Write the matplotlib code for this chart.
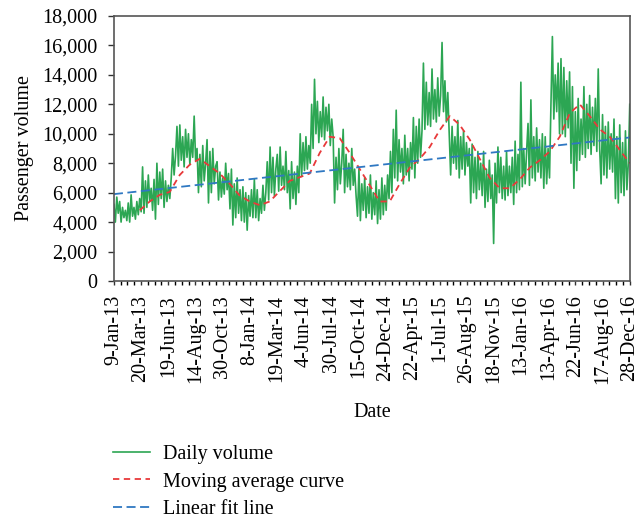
import numpy as np
import matplotlib
matplotlib.use('Agg')
import matplotlib.pyplot as plt
from matplotlib.ticker import FuncFormatter, FixedLocator

plt.rcParams['font.family'] = 'Liberation Serif'

# Volume diário (milhares de passageiros), lido em sequência ao longo do período
daily_k = [
    5.2, 4.0, 5.7, 4.6, 5.4, 4.0, 5.0, 4.3,
    4.8, 4.1, 5.3, 4.0, 5.85, 4.4, 5.0, 4.2,
    5.4, 4.5, 5.6, 4.7,
    7.75, 4.6, 6.8, 5.0, 7.2, 5.4, 6.3,
    4.8, 6.9, 4.2, 8.0, 5.2, 7.4, 5.6,
    7.6, 5.0, 6.8, 5.4, 6.5,
    5.6, 7.0, 9.0, 7.2, 8.5,
    10.5, 7.8, 10.6, 8.2, 9.8, 7.75, 10.3, 8.4,
    10.0, 7.9, 9.6, 8.4, 11.2, 8.2,
    9.0, 6.0, 8.6, 6.4, 9.2, 6.8, 8.0,
    9.6, 5.3, 8.8, 6.0, 9.0, 6.6, 7.8,
    8.1, 5.5, 7.4, 5.7, 7.0, 5.9, 8.0, 6.2, 7.3,
    4.9, 7.6, 3.8, 6.6, 4.3, 7.0, 4.6, 6.2, 4.1,
    6.4, 4.0, 6.0, 3.45, 5.8, 4.4, 6.2,
    4.3, 6.9, 4.3, 6.2, 4.1, 5.6, 4.6, 6.5, 4.8, 6.0,
    8.1, 5.5, 9.1, 6.0, 8.4, 5.8, 7.6,
    8.6, 6.1, 9.1, 6.5, 7.8, 6.2, 8.8, 6.0, 7.5,
    4.9, 8.1, 5.6, 7.4, 5.2, 7.8, 6.0,
    10.0, 7.1, 9.4, 7.5, 9.8, 7.6, 9.2, 8.0,
    12.0, 9.0, 13.7, 10.0, 12.2, 9.4, 11.5, 9.8,
    12.5, 9.6, 11.8, 10.2, 12.0, 9.2, 11.0,
    9.8, 5.3, 8.4, 6.2, 9.0, 6.6, 8.0,
    10.3, 6.0, 8.6, 6.4, 8.0, 6.2, 9.0, 6.5, 7.6, 5.8,
    4.4, 7.6, 4.1, 6.6, 4.8, 7.0, 4.3, 6.4, 4.6, 7.2, 4.2, 6.0, 4.5,
    6.8, 3.9, 6.2, 4.2, 7.0, 4.5, 6.5, 4.8,
    7.2, 5.6, 8.8, 6.0,
    10.3, 7.0, 11.6, 6.8, 9.6, 7.4, 9.0,
    6.6, 9.9, 7.2, 9.0, 6.8, 9.4, 7.6,
    11.1, 7.0, 10.5, 8.0, 11.0, 8.4, 10.2,
    14.8, 10.3, 13.5, 10.6, 12.8,
    10.5, 14.4, 11.0, 13.0, 10.8, 13.8, 11.2, 12.6,
    16.2, 11.5, 13.6, 10.8, 12.8, 10.0,
    7.2, 10.5, 8.0, 9.8, 7.6,
    10.9, 7.0, 9.8, 7.6, 10.2, 7.2, 9.4, 7.8, 9.0,
    5.3, 9.3, 6.0, 8.4, 5.6, 8.8, 6.2, 8.0, 5.8,
    8.8, 5.0, 7.6, 5.4, 8.2, 5.6, 7.2,
    2.55, 8.0, 5.3, 9.1, 6.0, 8.4, 5.6, 7.8,
    5.5, 8.8, 5.8, 7.8, 6.0, 8.4,
    5.2, 9.5, 6.0, 8.6, 6.2, 13.5, 6.4, 9.0, 6.6, 8.8,
    10.7, 6.5, 12.3, 7.0, 9.8, 6.8, 10.4, 7.4, 9.6, 7.0, 10.0,
    6.3, 9.8, 6.6, 9.0, 7.0,
    12.0, 16.6, 11.0, 14.0, 11.5, 14.8,
    10.0, 15.1, 10.0, 14.5, 9.8, 13.6, 10.4, 14.2,
    8.0, 13.2, 6.3, 11.5, 7.5, 12.4, 8.2, 11.0, 8.6,
    13.2, 8.4, 12.0, 9.0, 12.6, 8.6, 11.8, 9.2, 12.4, 8.8, 14.4, 9.0,
    6.6, 11.3, 7.2, 10.5, 7.0, 10.8, 7.6, 10.0, 7.4,
    11.0, 5.6, 9.8, 5.3, 10.6, 6.0, 9.4, 5.8, 10.2, 6.2,
    8.0, 12.0,
]

# Curva de média móvel (milhares), começa um pouco depois do início da série
moving_avg_k = [
    4.8, 5.4, 5.85, 6.05, 7.2, 7.9, 8.3, 7.8, 7.3, 6.6,
    5.8, 5.4, 5.15, 5.4, 6.1, 6.8, 7.05, 7.3, 8.7, 9.8,
    9.7, 8.7, 7.6, 6.5, 5.4, 5.4, 6.6, 7.7, 8.3, 9.1,
    10.25, 11.2, 10.6, 9.6, 8.3, 7.0, 6.3, 6.3, 6.9, 7.7,
    8.2, 8.8, 9.8, 11.4, 12.0, 11.2, 10.3, 9.8, 8.9, 8.0,
]
ma_start_frac = 0.05   # fração do período onde a média móvel começa

# Reta de ajuste linear: valores no início e no fim do período (milhares)
fit_start_k = 5.9
fit_end_k = 9.75

date_labels = ['9-Jan-13', '20-Mar-13', '19-Jun-13', '14-Aug-13', '30-Oct-13',
               '8-Jan-14', '19-Mar-14', '4-Jun-14', '30-Jul-14', '15-Oct-14',
               '24-Dec-14', '22-Apr-15', '1-Jul-15', '26-Aug-15', '18-Nov-15',
               '13-Jan-16', '13-Apr-16', '22-Jun-16', '17-Aug-16', '28-Dec-16']

# ==============================
# Preparação dos dados
# ==============================
daily = np.array(daily_k) * 1000
n = len(daily)
x = np.arange(n)
last = n - 1

ma = np.array(moving_avg_k) * 1000
ma_x = np.linspace(ma_start_frac * last, last, len(ma))

fit_y = np.array([fit_start_k, fit_end_k]) * 1000
fit_x = np.array([0, last])

# ==============================
# Plot
# ==============================
fs = 14.5
fig = plt.figure(figsize=(6.4, 5.19), dpi=100)
ax = fig.add_axes([0.178, 0.4586, 0.806, 0.5106])

l1, = ax.plot(x, daily, color='#2ca653', lw=1.2, label='Daily volume')
l2, = ax.plot(ma_x, ma, color='#e8393a', lw=1.3, ls=(0, (3.5, 2.5)),
              label='Moving average curve')
l3, = ax.plot(fit_x, fit_y, color='#2f78c2', lw=1.3, ls=(0, (5, 2.5)),
              label='Linear fit line')

ax.set_xlim(0, last)
ax.set_ylim(0, 18000)
ax.set_yticks(np.arange(0, 18001, 2000))
ax.yaxis.set_major_formatter(FuncFormatter(lambda v, p: f'{int(v):,}'))

tick_pos = np.linspace(0, last, len(date_labels))
ax.set_xticks(tick_pos)
ax.set_xticklabels(date_labels, rotation=90)
ax.xaxis.set_minor_locator(FixedLocator(np.linspace(0, last, 4 * (len(date_labels) - 1) + 1)))

ax.tick_params(axis='both', labelsize=fs, color='#333333', direction='out')
ax.tick_params(axis='y', length=4, width=1, pad=8)
ax.tick_params(axis='x', which='both', length=3, width=1, pad=7)

for s in ax.spines.values():
    s.set_color('#555555')
    s.set_linewidth(1.2)

ax.set_xlabel('Date', fontsize=fs, labelpad=14)
ax.set_ylabel('Passenger volume', fontsize=fs, labelpad=6)

fig.legend(handles=[l1, l2, l3], loc='upper left', bbox_to_anchor=(0.164, 0.158),
           frameon=False, fontsize=fs, handlelength=1.85, labelspacing=0.41,
           handletextpad=0.65, borderaxespad=0)

plt.savefig('out.png', dpi=100)
